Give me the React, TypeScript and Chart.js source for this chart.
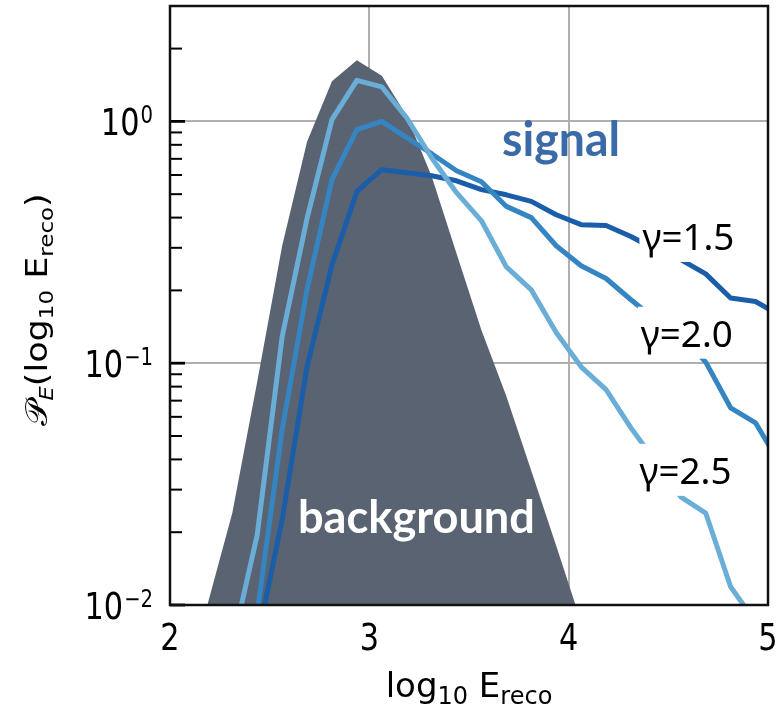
import React, { useEffect, useRef } from "react";
import { Chart, registerables } from "chart.js";
Chart.register(...registerables);

// ---------- data ----------
const bgX = [2.1875, 2.3125, 2.4375, 2.5625, 2.6875, 2.8125, 2.9375, 3.0625, 3.1875, 3.3125, 3.4375, 3.5625, 3.6875, 3.8125, 3.9375, 4.0625];
const bgY = [0.01, 0.024, 0.0837, 0.305, 0.824, 1.464, 1.79, 1.545, 1.056, 0.593, 0.284, 0.137, 0.073, 0.0359, 0.0176, 0.0085];

const g25X = [2.3125, 2.4375, 2.5625, 2.6875, 2.8125, 2.9375, 3.0625, 3.1875, 3.3125, 3.4375, 3.5625, 3.6875, 3.8125, 3.9375, 4.0625, 4.1875, 4.3125, 4.4375, 4.5625, 4.6875, 4.8125, 4.9375];
const g25Y = [0.0068, 0.0195, 0.1285, 0.397, 1.016, 1.478, 1.388, 1.035, 0.707, 0.507, 0.388, 0.25, 0.201, 0.134, 0.0966, 0.0777, 0.054, 0.039, 0.028, 0.024, 0.0119, 0.0085];

const g20X = [2.4375, 2.5625, 2.6875, 2.8125, 2.9375, 3.0625, 3.1875, 3.3125, 3.4375, 3.5625, 3.6875, 3.8125, 3.9375, 4.0625, 4.1875, 4.3125, 4.4375, 4.5625, 4.6875, 4.8125, 4.9375, 5.0625];
const g20Y = [0.0093, 0.053, 0.202, 0.574, 0.924, 1.0, 0.856, 0.735, 0.625, 0.563, 0.445, 0.4, 0.306, 0.253, 0.224, 0.183, 0.151, 0.131, 0.101, 0.0654, 0.0567, 0.038];

const g15X = [2.4375, 2.5625, 2.6875, 2.8125, 2.9375, 3.0625, 3.1875, 3.3125, 3.4375, 3.5625, 3.6875, 3.8125, 3.9375, 4.0625, 4.1875, 4.3125, 4.4375, 4.5625, 4.6875, 4.8125, 4.9375, 5.0625];
const g15Y = [0.0071, 0.0225, 0.0966, 0.255, 0.513, 0.631, 0.613, 0.596, 0.568, 0.522, 0.497, 0.467, 0.411, 0.374, 0.371, 0.334, 0.294, 0.268, 0.234, 0.186, 0.18, 0.157];

const xTickValues = [2, 3, 4, 5];
const xTickLabels = ["2", "3", "4", "5"];
const yMajorValues = [0.01, 0.1, 1];
const yMajorExps = ["−2", "−1", "0"];
const yMinorValues = [0.02, 0.03, 0.04, 0.05, 0.06, 0.07, 0.08, 0.09, 0.2, 0.3, 0.4, 0.5, 0.6, 0.7, 0.8, 0.9, 2];
const seriesNames = ["γ=1.5", "γ=2.0", "γ=2.5"];

const COL_BG = "#5a6371";
const COL_15 = "#1a5ea9";
const COL_20 = "#3585c2";
const COL_25 = "#6aaed8";
const COL_SIGNAL = "#3b6aa8";
const GRID = "#b0b0b0";

const toPts = (xs: number[], ys: number[]) => xs.map((x, i) => ({ x, y: ys[i] }));

function drawText(ctx: CanvasRenderingContext2D, s: string, x: number, y: number, font: string, color: string, sx = 1, align: "left" | "center" | "right" = "left") {
  ctx.save();
  ctx.font = font;
  ctx.fillStyle = color;
  ctx.textBaseline = "alphabetic";
  ctx.textAlign = "left";
  const w = ctx.measureText(s).width * sx;
  const x0 = align === "center" ? x - w / 2 : align === "right" ? x - w : x;
  ctx.translate(x0, y);
  ctx.scale(sx, 1);
  ctx.fillText(s, 0, 0);
  ctx.restore();
  return w;
}

function fitText(ctx: CanvasRenderingContext2D, s: string, x: number, y: number, font: string, color: string, width: number) {
  ctx.save();
  ctx.font = font;
  const m = ctx.measureText(s).width;
  ctx.restore();
  drawText(ctx, s, x, y, font, color, width / m);
}

const decoPlugin = {
  id: "deco",
  afterDatasetsDraw(chart: any) {
    const ctx: CanvasRenderingContext2D = chart.ctx;
    const xs = chart.scales.x;
    const ys = chart.scales.y;
    ctx.save();
    ctx.beginPath();
    const a = chart.chartArea;
    ctx.rect(a.left, a.top, a.right - a.left, a.bottom - a.top);
    ctx.clip();
    // annotations
    fitText(ctx, "signal", xs.getPixelForValue(3.666), ys.getPixelForValue(0.721), "bold 47px Lato", COL_SIGNAL, 118);
    fitText(ctx, "background", xs.getPixelForValue(2.642), ys.getPixelForValue(0.0199), "bold 46px Lato", "#ffffff", 237);
    const gl = [
      { t: seriesNames[0], x: 4.37, y: 0.294 },
      { t: seriesNames[1], x: 4.362, y: 0.117 },
      { t: seriesNames[2], x: 4.355, y: 0.0317 },
    ];
    for (const g of gl) {
      const px = xs.getPixelForValue(g.x);
      const py = ys.getPixelForValue(g.y);
      ctx.fillStyle = "#ffffff";
      ctx.fillRect(px - 3, py - 40, 102, 52);
      fitText(ctx, g.t, px, py, '36px "Noto Sans"', "#000000", 92);
    }
    ctx.restore();
  },
  afterDraw(chart: any) {
    const ctx: CanvasRenderingContext2D = chart.ctx;
    const xs = chart.scales.x;
    const ys = chart.scales.y;
    const a = chart.chartArea;
    ctx.save();
    // inner ticks on left axis
    ctx.strokeStyle = "#000";
    ctx.lineCap = "butt";
    for (const v of yMinorValues) {
      const py = ys.getPixelForValue(v);
      ctx.lineWidth = 2;
      ctx.beginPath();
      ctx.moveTo(a.left, py);
      ctx.lineTo(a.left + 12, py);
      ctx.stroke();
    }
    for (const v of yMajorValues) {
      const py = ys.getPixelForValue(v);
      ctx.lineWidth = 2.8;
      ctx.beginPath();
      ctx.moveTo(a.left, py);
      ctx.lineTo(a.left + 15, py);
      ctx.stroke();
    }
    // frame
    ctx.lineWidth = 2.5;
    ctx.strokeStyle = "#111";
    ctx.strokeRect(a.left, a.top, a.right - a.left, a.bottom - a.top);

    // y tick labels
    const tickFont = '37px "DejaVu Sans"';
    const supFont = '24px "DejaVu Sans"';
    const sx = 0.82;
    yMajorValues.forEach((v, i) => {
      const py = ys.getPixelForValue(v);
      const right = a.left - 17;
      ctx.font = supFont;
      const sw = ctx.measureText(yMajorExps[i]).width * sx;
      drawText(ctx, yMajorExps[i], right, py + 1.5, supFont, "#000", sx, "right");
      drawText(ctx, "10", right - sw - 1, py + 13.5, tickFont, "#000", sx, "right");
    });
    // x tick labels
    xTickValues.forEach((v, i) => {
      const px = xs.getPixelForValue(v);
      drawText(ctx, xTickLabels[i], px, a.bottom + 45, tickFont, "#000", sx, "center");
    });

    // x title: log10 Ereco
    {
      const main = '34px "DejaVu Sans"';
      const sub = '24px "DejaVu Sans"';
      const parts = [
        { t: "log", f: main, dy: 0 },
        { t: "10", f: sub, dy: 7 },
        { t: " E", f: main, dy: 0 },
        { t: "reco", f: sub, dy: 7 },
      ];
      let total = 0;
      for (const p of parts) { ctx.font = p.f; total += ctx.measureText(p.t).width; }
      let x = (a.left + a.right) / 2 - total / 2;
      const base = a.bottom + 92;
      for (const p of parts) {
        x += drawText(ctx, p.t, x, base + p.dy, p.f, "#000");
      }
    }
    // y title: P_E(log10 Ereco), rotated
    {
      const main = '35px "DejaVu Sans"';
      const sub = '23px "DejaVu Sans"';
      const subI = 'italic 23px "DejaVu Sans"';
      const parts = [
        { t: "𝒫", f: main, dy: 0 },
        { t: "E", f: subI, dy: 7 },
        { t: "(log", f: main, dy: 0 },
        { t: "10", f: sub, dy: 7 },
        { t: " E", f: main, dy: 0 },
        { t: "reco", f: sub, dy: 7 },
        { t: ")", f: main, dy: 0 },
      ];
      let total = 0;
      for (const p of parts) { ctx.font = p.f; total += ctx.measureText(p.t).width; }
      ctx.save();
      ctx.translate(47, (a.top + a.bottom) / 2 + 4);
      ctx.rotate(-Math.PI / 2);
      ctx.scale(1, 0.85);
      let x = -total / 2;
      for (const p of parts) {
        x += drawText(ctx, p.t, x, p.dy, p.f, "#000");
      }
      ctx.restore();
    }
    ctx.restore();
  },
};

export default function App() {
  const ref = useRef<HTMLCanvasElement>(null);
  useEffect(() => {
    if (!ref.current) return;
    const chart = new Chart(ref.current, {
      type: "line",
      data: {
        datasets: [
          {
            label: "background",
            data: toPts(bgX, bgY),
            borderWidth: 0,
            borderColor: COL_BG,
            backgroundColor: COL_BG,
            fill: "start",
            pointRadius: 0,
            tension: 0,
            order: 4,
          } as any,
          {
            label: seriesNames[0],
            data: toPts(g15X, g15Y),
            borderColor: COL_15,
            borderWidth: 5,
            borderJoinStyle: "round",
            pointRadius: 0,
            fill: false,
            order: 3,
          },
          {
            label: seriesNames[1],
            data: toPts(g20X, g20Y),
            borderColor: COL_20,
            borderWidth: 5,
            borderJoinStyle: "round",
            pointRadius: 0,
            fill: false,
            order: 2,
          },
          {
            label: seriesNames[2],
            data: toPts(g25X, g25Y),
            borderColor: COL_25,
            borderWidth: 5,
            borderJoinStyle: "round",
            pointRadius: 0,
            fill: false,
            order: 1,
          },
        ],
      },
      options: {
        responsive: false,
        animation: false,
        events: [],
        layout: { padding: { left: 170, right: 15, top: 6, bottom: 105 } },
        plugins: { legend: { display: false }, tooltip: { enabled: false }, title: { display: false } },
        scales: {
          x: {
            type: "linear",
            min: 2,
            max: 5,
            afterBuildTicks: (s: any) => { s.ticks = xTickValues.map((v) => ({ value: v })); },
            ticks: { display: false },
            border: { display: false },
            grid: {
              drawTicks: false,
              lineWidth: 2,
              color: (c: any) => (c.tick && (c.tick.value === 3 || c.tick.value === 4) ? GRID : "rgba(0,0,0,0)"),
            },
          },
          y: {
            type: "logarithmic",
            min: 0.01,
            max: 3,
            afterBuildTicks: (s: any) => { s.ticks = [...yMajorValues, ...yMinorValues].sort((p, q) => p - q).map((v) => ({ value: v })); },
            ticks: { display: false },
            border: { display: false },
            grid: {
              drawTicks: false,
              lineWidth: 2,
              color: (c: any) => (c.tick && (c.tick.value === 0.1 || c.tick.value === 1) ? GRID : "rgba(0,0,0,0)"),
            },
          },
        },
      },
      plugins: [decoPlugin],
    });
    return () => chart.destroy();
  }, []);
  return (
    <div style={{ position: "fixed", left: 0, top: 0, width: 783, height: 710, background: "#fff" }}>
      <canvas ref={ref} width={783} height={710} />
    </div>
  );
}
